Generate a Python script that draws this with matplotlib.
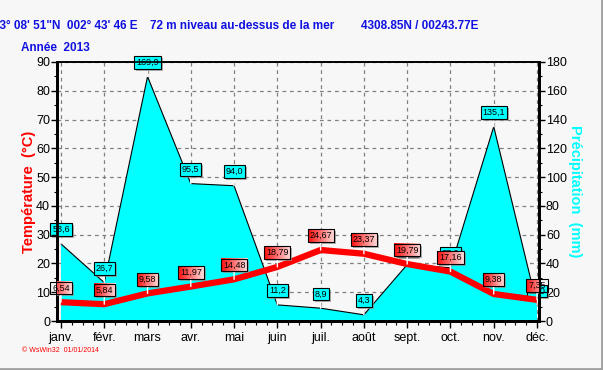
import matplotlib
matplotlib.use("Agg")
import numpy as np
import matplotlib.pyplot as plt
from matplotlib.lines import Line2D
from matplotlib.ticker import MultipleLocator
import matplotlib.patheffects as pe

months = ["janv.", "févr.", "mars", "avr.", "mai", "juin", "juil.", "août",
          "sept.", "oct.", "nov.", "déc."]
temperature = [6.54, 5.84, 9.58, 11.97, 14.48, 18.79, 24.67, 23.37, 19.79, 17.16, 9.38, 7.35]
precipitation = [53.6, 26.7, 169.9, 95.5, 94.0, 11.2, 8.9, 4.3, 39.2, 37.0, 135.1, 11.0]

plt.rcParams['font.family'] = ['Liberation Sans', 'DejaVu Sans']
BG = '#f7f7f7'
BLUE = '#1010e0'

fig = plt.figure(figsize=(6.03, 3.70), dpi=100, facecolor=BG)
ax1 = fig.add_axes([57/603, 1-321/370, (539-57)/603, (321-62)/370])
ax1.set_facecolor(BG)
ax2 = ax1.twinx()
x = list(range(len(months)))

shadow = [pe.SimplePatchShadow(offset=(1.5, -1.5), shadow_rgbFace='#909090', alpha=0.7),
          pe.Normal()]

# precipitation (right axis scale) on ax1
ax1.set_ylim(0, 180)
ax1.set_xlim(-0.092, 11.046)
ax1.grid(True, which='major', axis='both', linestyle=(0, (3, 3)), color='#808080', lw=0.9)
ax1.fill_between(x, precipitation, 0, facecolor='#00ffff', edgecolor='none', zorder=2)
ax1.plot(x, precipitation, color='black', lw=0.8, zorder=3)
ax1.set_yticks(range(0, 181, 20))
ax1.yaxis.set_minor_locator(MultipleLocator(10))
ax1.set_xticks(x)
ax1.set_xticklabels(months)
ax1.xaxis.set_minor_locator(MultipleLocator(0.25))
ax1.tick_params(axis='x', which='major', length=5, width=1, labelsize=9, pad=3)
ax1.tick_params(axis='x', which='minor', length=3, width=0.8)
ax1.tick_params(axis='y', which='major', length=4, width=1, labelsize=9, pad=1)
ax1.tick_params(axis='y', which='minor', length=2.5, width=0.8)

for i, p in enumerate(precipitation):
    a = ax1.annotate(f"{p:.1f}".replace('.', ','), xy=(i, p), xytext=(0, 7),
                     textcoords='offset points', ha='center', va='bottom', fontsize=6.5,
                     color='black',
                     bbox=dict(boxstyle='square,pad=0.2', fc='#00ffff', ec='black', lw=0.8),
                     arrowprops=dict(arrowstyle='-', color='white', lw=1, shrinkA=0, shrinkB=0),
                     zorder=5)
    a.get_bbox_patch().set_path_effects(shadow)

# temperature on twin axis
ax2.set_ylim(0, 90)
ax2.set_yticks(range(0, 91, 10))
ax2.yaxis.set_minor_locator(MultipleLocator(5))
ax2.tick_params(axis='y', which='major', length=4, width=1, labelsize=9, pad=1)
ax2.tick_params(axis='y', which='minor', length=2.5, width=0.8)
ax2.plot(x, temperature, color='#ff0000', lw=4.5, solid_capstyle='butt', zorder=3)

ax1.yaxis.tick_right()
ax1.yaxis.set_label_position('right')
ax2.yaxis.tick_left()
ax2.yaxis.set_label_position('left')
ax1.set_ylabel("Précipitation  (mm)", color='#00ffff', fontsize=10.5, fontweight='bold',
               rotation=-90, labelpad=11)
ax2.set_ylabel("Température  (°C)", color='#ff0000', fontsize=10.5, fontweight='bold',
               labelpad=0)

temp_ann = []
for i, t in enumerate(temperature):
    a = ax2.annotate(f"{t:.2f}".replace('.', ','), xy=(i, t), xytext=(0, 7),
                     textcoords='offset points', ha='center', va='bottom', fontsize=6.5,
                     color='black',
                     bbox=dict(boxstyle='square,pad=0.2', fc='none', ec='black', lw=0.8),
                     arrowprops=dict(arrowstyle='-', color='white', lw=1, shrinkA=0, shrinkB=0),
                     zorder=8)
    temp_ann.append(a)

for ax in (ax1, ax2):
    for s in ('left', 'right', 'bottom'):
        ax.spines[s].set_linewidth(2)
    ax.spines['top'].set_linewidth(1.2)

# gradient fill (red -> pale pink) and shadow under the temperature label boxes
fig.canvas.draw()
renderer = fig.canvas.get_renderer()
grad = np.zeros((1, 64, 3))
grad[0, :, 0] = 1.0
grad[0, :, 1] = np.linspace(0.05, 0.88, 64)
grad[0, :, 2] = np.linspace(0.05, 0.88, 64)
inv = ax2.transData.inverted()
for a in temp_ann:
    patch = a.get_bbox_patch()
    ext = patch.get_window_extent(renderer)
    (x0, y0), (x1, y1) = inv.transform([(ext.x0, ext.y0), (ext.x1, ext.y1)])
    (sx0, sy0), (sx1, sy1) = inv.transform([(ext.x0 + 2, ext.y0 - 2), (ext.x1 + 2, ext.y1 - 2)])
    ax2.add_patch(plt.Rectangle((sx0, sy0), sx1 - sx0, sy1 - sy0, fc='#909090', ec='none',
                                alpha=0.7, zorder=7.2))
    ax2.imshow(grad, extent=(x0, x1, y0, y1), aspect='auto', zorder=7.5,
               interpolation='bilinear')
ax2.set_xlim(-0.092, 11.046)
ax2.set_ylim(0, 90)

# header texts
fig.text(-0.011, 1-26/370, "43° 08' 51\"N  002° 43' 46 E", color=BLUE, fontsize=8.5,
         fontweight='bold', ha='left', va='center')
fig.text(150/603, 1-26/370, "72 m niveau au-dessus de la mer", color=BLUE, fontsize=8.5,
         fontweight='bold', ha='left', va='center')
fig.text(361/603, 1-26/370, "4308.85N / 00243.77E", color=BLUE, fontsize=8.5,
         fontweight='bold', ha='left', va='center')
fig.text(21/603, 1-48/370, "Année  2013", color=BLUE, fontsize=8.5,
         fontweight='bold', ha='left', va='center')
fig.text(22/603, 1-351/370, "© WsWin32  01/01/2014", color='#ff0000', fontsize=5,
         ha='left', va='center')

# window frame lines
fig.add_artist(Line2D([0, 1], [1.5/370, 1.5/370], transform=fig.transFigure, color='#a0a0a0', lw=2))
fig.add_artist(Line2D([1-1.5/603, 1-1.5/603], [0, 1], transform=fig.transFigure, color='#a0a0a0', lw=2))

fig.savefig("out.png", dpi=100, facecolor=BG)
